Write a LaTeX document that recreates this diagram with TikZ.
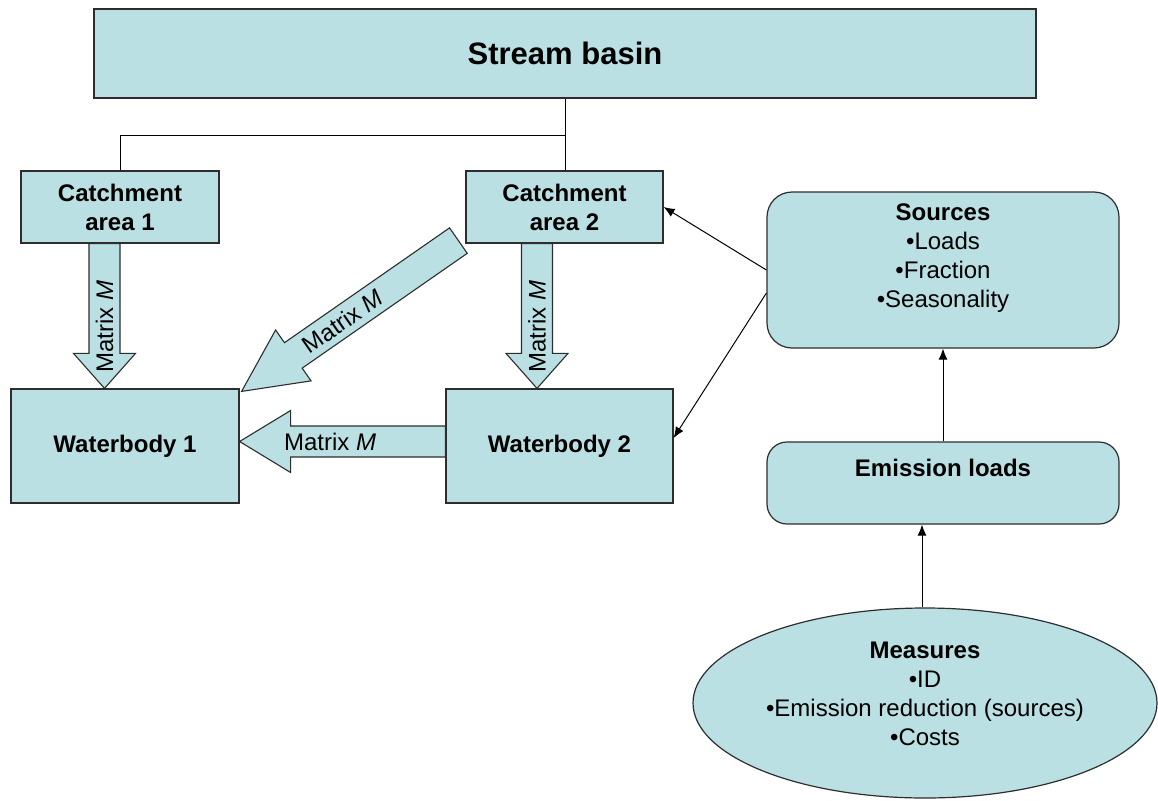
\documentclass[tikz,border=0pt]{standalone}
\usepackage{fontspec}
\setmainfont{Liberation Sans}
\usetikzlibrary{calc,shapes.geometric,arrows.meta}
\definecolor{boxfill}{RGB}{187,224,227}
\definecolor{edgegray}{RGB}{45,45,45}
% #1 tail, #2 tip, #3 shaft half width, #4 head half width, #5 head length
\newcommand{\blockarrow}[5]{%
  \path ($(#2)!#5!(#1)$) coordinate (bab);
  \draw[barrow] (#2) -- ($(bab)!#4!90:(#2)$) -- ($(bab)!#3!90:(#2)$)
    -- ($(#1)!#3!90:(#2)$) -- ($(#1)!#3!-90:(#2)$)
    -- ($(bab)!#3!-90:(#2)$) -- ($(bab)!#4!-90:(#2)$) -- cycle;}
\begin{document}
\begin{tikzpicture}[x=1pt,y=-1pt,
  box/.style={draw=edgegray, fill=boxfill, line width=1.2pt, rectangle, inner sep=0pt,
    align=center, font=\fontsize{24}{29}\selectfont\bfseries},
  rbox/.style={box, rounded corners=25pt},
  txt/.style={inner sep=0pt, align=center, font=\fontsize{24}{29}\selectfont},
  conn/.style={black, line width=1pt},
  arr/.style={conn, -{Latex[length=11pt,width=9pt]}},
  barrow/.style={draw=edgegray, fill=boxfill, line width=1.1pt, line join=miter}]
\useasboundingbox (0,0) rectangle (1158,800);

% boxes
\node[box, minimum width=942pt, minimum height=89pt, font=\fontsize{31}{36}\selectfont\bfseries] (basin) at (565,53.5) {Stream basin};
\node[box, minimum width=198pt, minimum height=72pt] (c1) at (120,207) {Catchment\\area 1};
\node[box, minimum width=197pt, minimum height=72pt] (c2) at (564.5,207) {Catchment\\area 2};
\node[box, minimum width=228pt, minimum height=114pt] (wb1) at (125,446) {Waterbody 1};
\node[box, minimum width=227pt, minimum height=114pt] (wb2) at (559.5,446) {Waterbody 2};
\node[rbox, minimum width=352pt, minimum height=156pt] (src) at (943,270) {};
\node[rbox, rounded corners=20pt, minimum width=352pt, minimum height=82pt] (em) at (943,483) {};
\node[draw=edgegray, fill=boxfill, line width=1.2pt, ellipse, inner sep=0pt,
  minimum width=464pt, minimum height=190pt] (meas) at (925,703) {};

% texts in top-aligned boxes
\node[txt, anchor=north] (srctxt) at ($(src.north)+(0,12)$) {\textbf{Sources}\\•Loads\\•Fraction\\•Seasonality};
\node[txt, anchor=north, font=\fontsize{24}{29}\selectfont\bfseries] (emtxt) at ($(em.north)+(0,18)$) {Emission loads};
\node[txt, anchor=north] (meastxt) at ($(meas.north)+(0,34)$) {\textbf{Measures}\\•ID\\•Emission reduction (sources)\\•Costs};

% tree connector
\coordinate (jn) at ($(basin.south)+(0,37)$);
\draw[conn] (basin.south) -- (jn) -| (c1.north);
\draw[conn] (jn) -- (jn |- c2.north);

% block arrows
\coordinate (v1t) at ($(c1.south)+(-15.5,0)$);
\coordinate (v1h) at (v1t |- wb1.north);
\blockarrow{v1t}{v1h}{15.5pt}{31pt}{35pt}
\node[txt, rotate=90] (v1lab) at ($(v1t)!0.575!(v1h)$) {Matrix \textit{M}};

\coordinate (v2t) at ($(c2.south)+(-27.5,0)$);
\coordinate (v2h) at (v2t |- wb2.north);
\blockarrow{v2t}{v2h}{15.5pt}{31pt}{35pt}
\node[txt, rotate=90] (v2lab) at ($(v2t)!0.575!(v2h)$) {Matrix \textit{M}};

\coordinate (ht) at ($(wb2.west)+(0,-4.5)$);
\coordinate (hh) at (ht -| wb1.east);
\blockarrow{ht}{hh}{15.5pt}{31pt}{51pt}
\node[txt] (hlab) at ($(ht)!0.56!(hh)$) {Matrix \textit{M}};

\coordinate (dt) at ($(c2.south west)+(-7,-3)$);
\coordinate (dh) at ($(wb1.north east)+(2,3)$);
\blockarrow{dt}{dh}{15.5pt}{31pt}{63pt}
\node[txt, rotate=34.9] (dlab) at ($(dh)!123pt!(dt)$) {Matrix \textit{M}};

% thin arrows
\draw[arr] (src.west) -- (c2.east);
\draw[arr] ($(src.west)+(0,23)$) -- ($(wb2.east)+(0,-8)$);
\draw[arr] (em.north) -- (src.south);
\coordinate (mt) at ($(meas.north)+(-3,0)$);
\draw[arr] (mt) -- (mt |- em.south);
\end{tikzpicture}
\end{document}
